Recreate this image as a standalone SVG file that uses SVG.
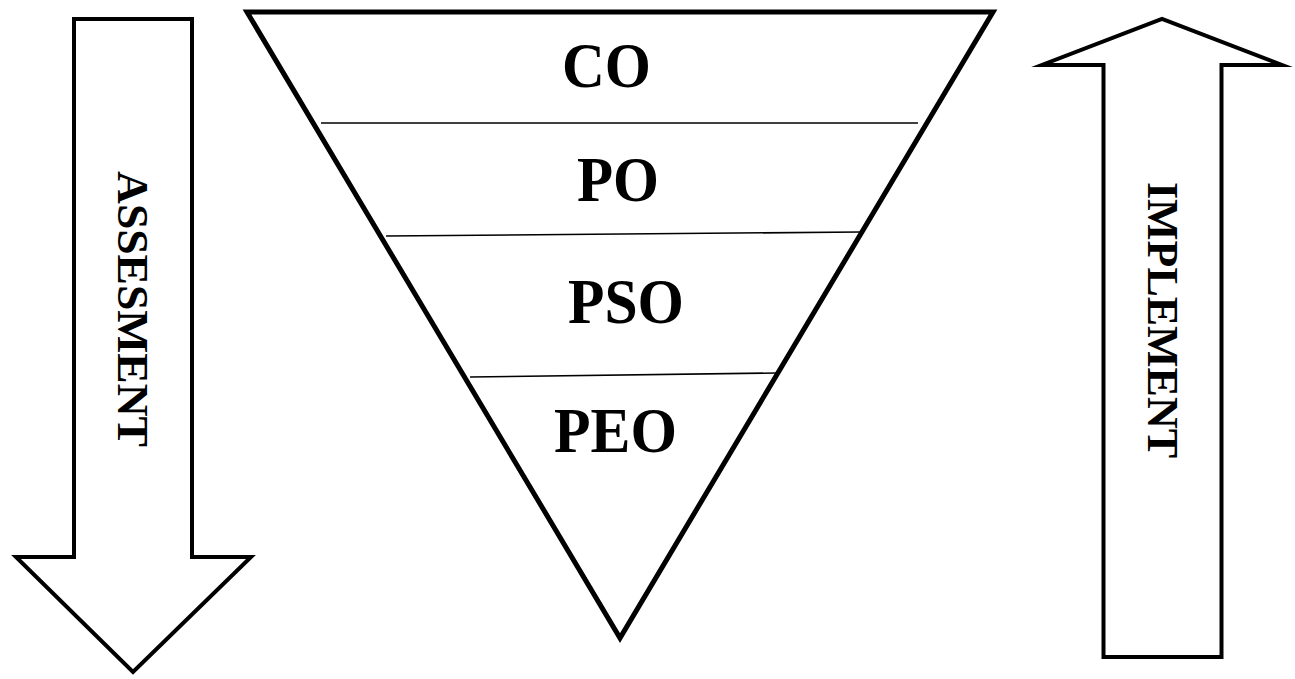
<svg xmlns="http://www.w3.org/2000/svg" width="1295" height="679" viewBox="0 0 1295 679">
<style>
.shape{fill:#fff;stroke:#000;stroke-linejoin:miter;stroke-miterlimit:10}
.arrow{stroke-width:4}
.tri{stroke-width:5}
.div{stroke:#000;stroke-width:1.6;fill:none}
.lbl{font-family:"Liberation Serif","Times New Roman",serif;font-weight:bold;fill:#000;text-anchor:middle}
.big{font-size:63px}
.side{font-size:45px}
</style>
<rect width="1295" height="679" fill="#fff"/>
<g id="assesment-arrow">
<polygon class="shape arrow" points="74,19 192,19 192,557 251,557 133,672 16,557 74,557"/>
<text class="lbl side" transform="translate(118,309) rotate(90)" x="0" y="0" textLength="276" lengthAdjust="spacingAndGlyphs">ASSESMENT</text>
</g>
<g id="implement-arrow">
<polygon class="shape arrow" points="1103.5,657 1221.5,657 1221.5,65 1282,65 1162,19 1042,65 1103.5,65"/>
<text class="lbl side" transform="translate(1148,320) rotate(90)" x="0" y="0" textLength="276" lengthAdjust="spacingAndGlyphs">IMPLEMENT</text>
</g>
<g id="pyramid">
<polygon class="shape tri" points="247,12 993,12 620,638"/>
</g>
<g id="dividers">
<line class="div" x1="321" y1="123" x2="918" y2="123"/>
<line class="div" x1="386" y1="236" x2="860" y2="232"/>
<line class="div" x1="470" y1="377" x2="776" y2="373"/>
</g>
<g id="co"><text class="lbl big" x="606.5" y="87" textLength="89" lengthAdjust="spacingAndGlyphs">CO</text></g>
<g id="po"><text class="lbl big" x="618" y="201" textLength="82" lengthAdjust="spacingAndGlyphs">PO</text></g>
<g id="pso"><text class="lbl big" x="626" y="323" textLength="116" lengthAdjust="spacingAndGlyphs">PSO</text></g>
<g id="peo"><text class="lbl big" x="615.5" y="452" textLength="123" lengthAdjust="spacingAndGlyphs">PEO</text></g>
</svg>
